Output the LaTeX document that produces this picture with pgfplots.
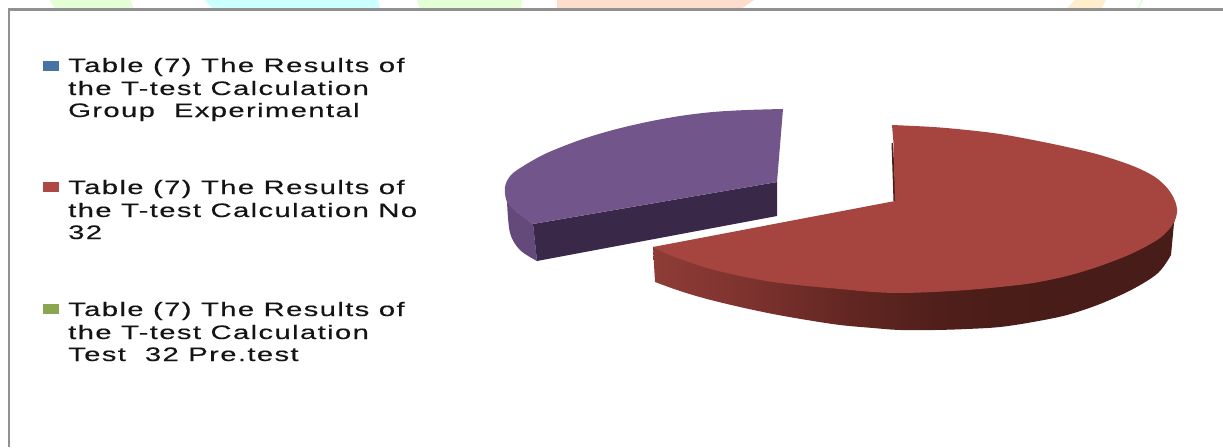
\documentclass[border=0pt]{standalone}
\usepackage{fontspec}
\setmainfont[FakeStretch=1.5,LetterSpace=7,FakeBold=0.35]{Liberation Sans}
\usepackage{pgfplots}
\pgfplotsset{compat=1.18}
\definecolor{redtop}{RGB}{166,68,64}
\definecolor{purpletop}{RGB}{114,85,138}
\definecolor{purplefront}{RGB}{58,40,72}
\definecolor{purpleleft}{RGB}{100,74,122}
\definecolor{swblue}{RGB}{70,115,165}
\definecolor{swred}{RGB}{174,72,70}
\definecolor{swgreen}{RGB}{138,166,80}
\definecolor{bggreen}{RGB}{228,255,214}
\definecolor{bgcyan}{RGB}{204,255,255}
\definecolor{bgpeach}{RGB}{255,221,204}
\definecolor{bgorange}{RGB}{255,238,204}
\definecolor{framegray}{RGB}{145,145,145}
\definecolor{sliver}{RGB}{75,32,30}
\pgfdeclarehorizontalshading{redwall}{100bp}{
 rgb(0bp)=(0.56,0.235,0.215);
 rgb(25bp)=(0.56,0.235,0.215);
 rgb(34.3bp)=(0.49,0.196,0.18);
 rgb(43.8bp)=(0.385,0.15,0.133);
 rgb(53.4bp)=(0.305,0.118,0.102);
 rgb(63bp)=(0.282,0.11,0.094);
 rgb(100bp)=(0.282,0.11,0.094)}
\newcommand{\legline}[3]{\node[anchor=base west,inner sep=0pt,text=black!92,font=\fontsize{19.5}{22}\selectfont] at (axis cs:#1,#2) {#3};}
\begin{document}
\begin{tikzpicture}
\begin{axis}[
  width=1223pt,height=447pt,scale only axis,
  xmin=0,xmax=1223,ymin=0,ymax=447,y dir=reverse,
  hide axis]
% invisible plot that holds the page to the full axis box
\addplot[draw=none] coordinates {(0,0)(1223,447)};
% background patches above the frame
\addplot[fill=bggreen,draw=none] coordinates {(50,0)(130,0)(134,9)(55,9)} --cycle;
\addplot[fill=bgcyan,draw=none] coordinates {(205,0)(378,0)(380,9)(213,9)} --cycle;
\addplot[fill=bggreen,draw=none] coordinates {(417,0)(522,0)(521,9)(420,9)} --cycle;
\addplot[fill=bgpeach,draw=none] coordinates {(557,0)(754,0)(741,9)(557,9)} --cycle;
\addplot[fill=bgorange,draw=none] coordinates {(1075,0)(1106,0)(1101,9)(1066,9)} --cycle;
\addplot[fill=bggreen,draw=none] coordinates {(1141,0)(1143,0)(1139,9)(1137,9)} --cycle;
% frame
\addplot[color=framegray,line width=2.4pt] coordinates {(9,447)(9,9.3)(1223,9.3)};
% red slice: wall
\addplot[draw=none,shading=redwall,smooth,tension=0.55] coordinates {
 (655,282)(680,291)(707,299)(740,307)(773,314)(807,320)(840,325)(873,328)(900,330)(935,330)
 (967,329)(1000,327)(1033,322)(1067,315)(1100,304)(1133,289)(1158,273)(1171,255)}
 -- (axis cs:1174,223) -- (axis cs:1177,210) -- (axis cs:900,240) -- (axis cs:653,247) -- cycle;
% inner wall sliver
\addplot[fill=sliver,draw=none] coordinates {(891.5,143)(893,143)(896,201)(893.5,201)} --cycle;
% red slice: top
\addplot[fill=redtop,draw=none,smooth,tension=0.55] coordinates {
 (892,125)(933,127)(967,130)(1000,134)(1033,140)(1067,147)(1100,155)(1133,166)(1155,177)(1168,189)
 (1175,201)(1177,212)(1173,224)(1160,238)(1133,253)(1100,266)(1067,276)(1033,283)(1000,287)(967,290)(933,292)(900,293)
 (873,292)(840,289)(807,286)(773,282)(740,276)(707,268)(683,260)(667,254)(653,247)}
 -- (axis cs:895,201) -- (axis cs:893.5,143) -- cycle;
% purple slice: left wall
\addplot[fill=purpleleft,draw=none,smooth,tension=0.55] coordinates {(507,202)(510,233)(520,250)(537,261)}
 -- (axis cs:533,224) -- (axis cs:517,212) -- cycle;
% purple slice: front wall
\addplot[fill=purplefront,draw=none] coordinates {(533,224)(537,261)(777,216)(777,182)} --cycle;
% purple slice: top
\addplot[fill=purpletop,draw=none,smooth,tension=0.55] coordinates {
 (783,109)(747,110)(713,112)(680,116)(647,122)(613,130)(580,140)(547,153)(525,165)(511,175)(505,187)
 (507,202)(517,212)(533,224)} -- (axis cs:777,182) -- cycle;
% legend keys
\addplot[fill=swblue,draw=none] coordinates {(43,61)(59,61)(59,71)(43,71)} --cycle;
\addplot[fill=swred,draw=none] coordinates {(43,182)(59,182)(59,192)(43,192)} --cycle;
\addplot[fill=swgreen,draw=none] coordinates {(43,304)(59,304)(59,314)(43,314)} --cycle;
% legend text
\legline{68}{72}{Table (7) The Results of}
\legline{68}{95}{the T-test Calculation}
\legline{68}{117}{Group\ \ Experimental}
\legline{68}{194}{Table (7) The Results of}
\legline{68}{217}{the T-test Calculation No}
\legline{68}{239}{32}
\legline{68}{316}{Table (7) The Results of}
\legline{68}{339}{the T-test Calculation}
\legline{68}{361}{Test\ \ 32 Pre.test}
\end{axis}
\end{tikzpicture}
\end{document}
